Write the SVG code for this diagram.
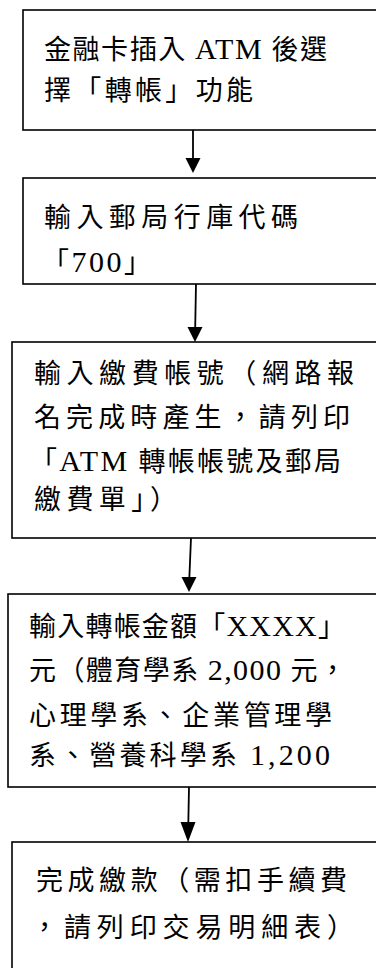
<svg xmlns="http://www.w3.org/2000/svg" width="376" height="968" viewBox="0 0 376 968">
<style>
.box{fill:#fff;stroke:#000;stroke-width:1.6}
.t{font-family:"Liberation Serif","Noto Sans CJK TC",serif;font-size:27px;fill:#000}
.l{font-size:30px}
.c{stroke:#000;stroke-width:1.8;fill:none}
.h{fill:#000}
</style>
<rect width="376" height="968" fill="#fff"/>
<g id="n1">
<rect class="box" x="23" y="10" width="370" height="120"/>
<text class="t" x="44" y="59" textLength="283" lengthAdjust="spacing">金融卡插入 <tspan class="l">ATM</tspan> 後選</text>
<text class="t" x="44" y="100" textLength="209" lengthAdjust="spacing">擇「轉帳」功能</text>
</g>
<g id="n2">
<rect class="box" x="23" y="178" width="370" height="106"/>
<text class="t" x="44" y="227" textLength="254" lengthAdjust="spacing">輸入郵局行庫代碼</text>
<text class="t" x="42" y="272" textLength="109" lengthAdjust="spacing">「<tspan class="l">700</tspan>」</text>
</g>
<g id="n3">
<rect class="box" x="12" y="342" width="380" height="196"/>
<text class="t" x="34" y="383" textLength="320" lengthAdjust="spacing">輸入繳費帳號（網路報</text>
<text class="t" x="34" y="427" textLength="316" lengthAdjust="spacing">名完成時產生，請列印</text>
<text class="t" x="30" y="471" textLength="311" lengthAdjust="spacing">「<tspan class="l">ATM</tspan> 轉帳帳號及郵局</text>
<text class="t" x="34" y="509" textLength="143" lengthAdjust="spacing">繳費單」）</text>
</g>
<g id="n4">
<rect class="box" x="8" y="594" width="380" height="193"/>
<text class="t" x="29" y="636" textLength="316" lengthAdjust="spacing">輸入轉帳金額「<tspan class="l">XXXX</tspan>」</text>
<text class="t" x="29" y="680" textLength="317" lengthAdjust="spacing">元（體育學系 <tspan class="l">2,000</tspan> 元，</text>
<text class="t" x="29" y="725" textLength="303" lengthAdjust="spacing">心理學系、企業管理學</text>
<text class="t" x="29" y="765" textLength="301" lengthAdjust="spacing">系、營養科學系 <tspan class="l">1,200</tspan></text>
</g>
<g id="n5">
<rect class="box" x="12" y="842" width="380" height="140"/>
<text class="t" x="36" y="890" textLength="311" lengthAdjust="spacing">完成繳款（需扣手續費</text>
<text class="t" x="31" y="937" textLength="323" lengthAdjust="spacing">，請列印交易明細表）</text>
</g>
<g id="connectors">
<line class="c" x1="193" y1="130" x2="193" y2="160"/>
<polygon class="h" points="185.5,158 200.5,158 193,173"/>
<line class="c" x1="196" y1="284" x2="195.2" y2="328"/>
<polygon class="h" points="187.5,327 202.5,327 195,342"/>
<line class="c" x1="191" y1="538" x2="189.3" y2="579"/>
<polygon class="h" points="181.5,577 196.5,577 189,592"/>
<line class="c" x1="189" y1="787" x2="188.3" y2="824"/>
<polygon class="h" points="180.5,822 195.5,822 188,842"/>
</g>
</svg>
